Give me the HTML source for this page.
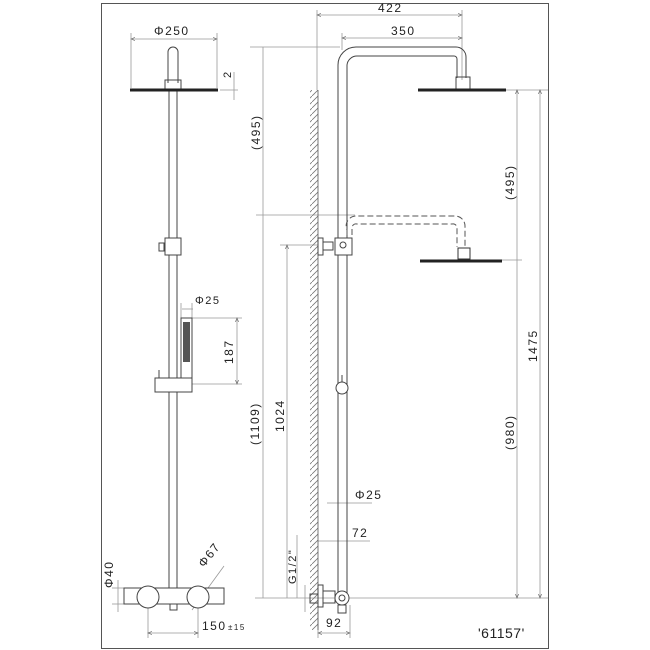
<!DOCTYPE html>
<html><head><meta charset="utf-8"><style>body{margin:0;background:#fff}svg{display:block}text{font-family:"Liberation Sans",sans-serif;fill:#222}</style></head><body>
<svg width="650" height="650" viewBox="0 0 650 650" xmlns="http://www.w3.org/2000/svg">
<defs><pattern id="h" width="6" height="6" patternUnits="userSpaceOnUse"><path d="M0,6 L6,0" stroke="#777" stroke-width="0.8"/></pattern>
<marker id="a" markerWidth="6" markerHeight="6" refX="5" refY="3" orient="auto-start-reverse"><path d="M0,1 L5,3 L0,5" fill="none" stroke="#666" stroke-width="0.8"/></marker></defs>
<rect x="101.5" y="3.5" width="447" height="645" fill="none" stroke="#555" stroke-width="1"/>
<g stroke="#999" stroke-width="0.8" fill="none">
<line x1="131" y1="39" x2="217" y2="39" marker-start="url(#a)" marker-end="url(#a)"/>
<line x1="131" y1="33" x2="131" y2="88"/><line x1="217" y1="33" x2="217" y2="88"/>
<line x1="220" y1="90" x2="238" y2="90"/><line x1="234" y1="72" x2="234" y2="100"/>
<line x1="182" y1="309" x2="193" y2="309"/><line x1="181" y1="303" x2="181" y2="318"/><line x1="192" y1="303" x2="192" y2="318"/>
<line x1="192" y1="318" x2="242" y2="318"/><line x1="192" y1="384" x2="242" y2="384"/>
<line x1="237" y1="318" x2="237" y2="384" marker-start="url(#a)" marker-end="url(#a)"/>
<line x1="118" y1="580" x2="118" y2="612"/><line x1="112" y1="588" x2="124" y2="588"/><line x1="112" y1="604" x2="124" y2="604"/>
<line x1="148" y1="600" x2="148" y2="638"/><line x1="198" y1="600" x2="198" y2="638"/>
<line x1="148" y1="633" x2="198" y2="633" marker-start="url(#a)" marker-end="url(#a)"/>
<line x1="192" y1="610" x2="224" y2="566"/>
<line x1="317" y1="15" x2="462" y2="15" marker-start="url(#a)" marker-end="url(#a)"/>
<line x1="317" y1="10" x2="317" y2="90"/><line x1="462" y1="10" x2="462" y2="80"/>
<line x1="342" y1="38" x2="462" y2="38" marker-start="url(#a)" marker-end="url(#a)"/>
<line x1="342" y1="33" x2="342" y2="50"/>
<line x1="250" y1="47" x2="340" y2="47"/>
<line x1="263" y1="47" x2="263" y2="598" />
<line x1="256" y1="215" x2="355" y2="215"/>
<line x1="280" y1="245" x2="318" y2="245"/>
<line x1="287" y1="245" x2="287" y2="598" marker-start="url(#a)"/>
<line x1="297" y1="535" x2="297" y2="598"/>
<line x1="255" y1="598" x2="548" y2="598"/>
<line x1="505" y1="90" x2="548" y2="90"/><line x1="500" y1="260" x2="522" y2="260"/>
<line x1="517" y1="90" x2="517" y2="598" marker-start="url(#a)" marker-end="url(#a)"/>
<line x1="540" y1="90" x2="540" y2="598" marker-start="url(#a)" marker-end="url(#a)"/>
<line x1="327" y1="503" x2="372" y2="503"/>
<line x1="318" y1="541" x2="370" y2="541"/>
<line x1="318" y1="633" x2="350" y2="633" marker-start="url(#a)" marker-end="url(#a)"/>
<line x1="318" y1="610" x2="318" y2="638"/><line x1="350" y1="605" x2="350" y2="638"/>
<line x1="305" y1="585" x2="305" y2="612"/>
</g>
<rect x="310" y="90" width="8" height="540" fill="url(#h)"/>
<line x1="318" y1="90" x2="318" y2="630" stroke="#555" stroke-width="0.8"/>
<g stroke="#444" stroke-width="1" fill="none">
<rect x="169" y="90" width="8" height="500" fill="#fff"/>
<path d="M168,83 L168,52 A5,5 0 0 1 178,52 L178,83"/>
<rect x="165" y="80" width="16" height="9"/>
<path d="M130,90 L218,90" stroke-width="3" stroke="#222"/>
<rect x="165" y="238" width="16" height="17" fill="#fff"/><rect x="159" y="243" width="5" height="8"/>
<rect x="181" y="318" width="11" height="66" fill="#fff"/><rect x="183" y="322" width="7" height="40" fill="#555" stroke="none"/>
<rect x="155" y="378" width="37" height="14" fill="#fff"/><line x1="159" y1="370" x2="159" y2="378"/>
<rect x="124" y="588" width="100" height="16" fill="#fff"/>
<circle cx="148" cy="597" r="11" fill="#fff"/><circle cx="198" cy="597" r="11" fill="#fff"/>
<rect x="170" y="604" width="7" height="6"/>
<path d="M338,598 L338,65 A18,18 0 0 1 356,47 L456,47 A10,10 0 0 1 466,57 L466,78"/>
<path d="M347,598 L347,65 A10,10 0 0 1 357,56 L454,56 A3,3 0 0 1 457,59 L457,78"/>
<rect x="456" y="77" width="14" height="12"/>
<path d="M418,90 L506,90" stroke-width="3" stroke="#222"/>
<rect x="335" y="238" width="17" height="17" fill="#fff"/><circle cx="343" cy="245" r="3"/>
<rect x="318" y="238" width="5" height="17"/><rect x="323" y="242" width="10" height="8"/>
<circle cx="342" cy="388" r="6" fill="#fff"/><line x1="342" y1="375" x2="342" y2="382"/>
<rect x="318" y="585" width="5" height="22"/><rect x="310" y="594" width="8" height="9"/><rect x="323" y="591" width="12" height="12"/>
<circle cx="342" cy="598" r="7" fill="#fff"/><circle cx="342" cy="598" r="3"/>
<rect x="338" y="605" width="8" height="8"/>
</g>
<g stroke="#555" stroke-width="1" fill="none" stroke-dasharray="6,3">
<path d="M347,235 L347,230 A10,10 0 0 1 357,216 L455,216 A10,10 0 0 1 465,226 L465,247"/>
<path d="M352,235 L352,228 A4,4 0 0 1 357,224 L452,224 A4,4 0 0 1 457,228 L457,247"/>
</g>
<rect x="458" y="248" width="12" height="11" fill="none" stroke="#333"/>
<path d="M420,261 L502,261" stroke-width="3" stroke="#222"/>
<g font-size="12" letter-spacing="1.5">
<text x="154" y="35">Φ250</text>
<text x="231" y="78" transform="rotate(-90 231 78)" font-size="11">2</text>
<text x="260" y="150" transform="rotate(-90 260 150)">(495)</text>
<text x="195" y="304" font-size="11">Φ25</text>
<text x="233" y="364" transform="rotate(-90 233 364)">187</text>
<text x="113" y="588" transform="rotate(-90 113 588)">Φ40</text>
<text x="204" y="568" transform="rotate(-52 204 568)">Φ67</text>
<text x="202" y="630">150</text><text x="228" y="630" font-size="8">±15</text>
<text x="378" y="12">422</text>
<text x="391" y="35">350</text>
<text x="259" y="445" transform="rotate(-90 259 445)">(1109)</text>
<text x="284" y="432" transform="rotate(-90 284 432)">1024</text>
<text x="296" y="584" transform="rotate(-90 296 584)" font-size="11">G1/2"</text>
<text x="355" y="499">Φ25</text>
<text x="352" y="537">72</text>
<text x="326" y="627">92</text>
<text x="514" y="200" transform="rotate(-90 514 200)">(495)</text>
<text x="514" y="450" transform="rotate(-90 514 450)">(980)</text>
<text x="537" y="362" transform="rotate(-90 537 362)">1475</text>
<text x="478" y="638" font-size="14" letter-spacing="0.5">'61157'</text>
</g>
</svg>
</body></html>
